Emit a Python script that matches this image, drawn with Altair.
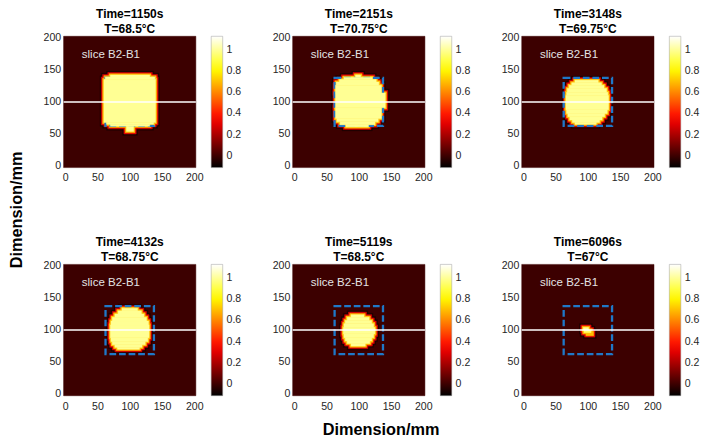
import altair as alt
import pandas as pd

FONT = "Liberation Sans"

TIMES = [1150, 2151, 3148, 4132, 5119, 6096]
TEMPS = ["68.5", "70.75", "69.75", "68.75", "68.5", "67"]

# blob rows (mm): row y-range, row x-range, value
BLOB_1150 = {"y_lo": [54, 62, 65, 68, 135, 139],
             "y_hi": [62, 65, 68, 135, 139, 142],
             "x_lo": [95, 70, 64, 60, 62, 70],
             "x_hi": [106, 131, 137, 140, 139, 131],
             "v": [1, 1, 1, 1, 1, 1]}
BLOB_2151 = {"y_lo": [61, 64.5, 69, 74, 91, 114, 126, 131, 135, 138.5],
             "y_hi": [64.5, 69, 74, 91, 114, 126, 131, 135, 138.5, 142],
             "x_lo": [80, 71, 66, 64, 64, 64, 65, 70, 77, 95],
             "x_hi": [115, 125, 130, 135, 141, 135, 131, 127, 121, 103],
             "v": [1, 1, 1, 1, 1, 1, 1, 1, 1, 1]}
BLOB_3148 = {"y_lo": [65, 68, 72, 77, 82, 88, 110, 115, 121, 126, 130],
             "y_hi": [68, 72, 77, 82, 88, 110, 115, 121, 126, 130, 134],
             "x_lo": [80, 76, 72, 69, 67, 66, 67, 68, 71, 75, 80],
             "x_hi": [113, 118, 122, 126, 130, 132, 131, 129, 125, 121, 116],
             "v": [1, 1, 1, 1, 1, 1, 1, 1, 1, 1, 1]}
BLOB_4132 = {"y_lo": [70, 73, 77, 82, 88, 108, 114, 120, 125, 130],
             "y_hi": [73, 77, 82, 88, 108, 114, 120, 125, 130, 134],
             "x_lo": [81, 77, 73, 71, 70, 71, 73, 77, 82, 88],
             "x_hi": [115, 119, 124, 128, 130, 129, 126, 122, 118, 112],
             "v": [1, 1, 1, 1, 1, 1, 1, 1, 1, 1]}
BLOB_5119 = {"y_lo": [75, 79, 83, 88, 94, 104, 110, 115, 120],
             "y_hi": [79, 83, 88, 94, 104, 110, 115, 120, 124],
             "x_lo": [88, 82, 79, 77, 76, 77, 79, 82, 88],
             "x_hi": [110, 117, 120, 123, 125, 123, 120, 116, 108],
             "v": [1, 1, 1, 1, 1, 1, 1, 1, 1]}
BLOB_6096 = {"y_lo": [93, 96, 100],
             "y_hi": [96, 100, 104],
             "x_lo": [99, 94, 93],
             "x_hi": [107, 105, 101],
             "v": [0.7, 0.95, 1]}
BLOBS = [BLOB_1150, BLOB_2151, BLOB_3148, BLOB_4132, BLOB_5119, BLOB_6096]

IMAGE_EXTENT = [-2.5, 202.5]
BACKGROUND_VALUE = 0
SQUARE = [62.5, 137.5]
LINE_Y = 100
CB_DOMAIN = [-0.11, 1.13]
CB_TICKS = [0, 0.2, 0.4, 0.6, 0.8, 1]
AXIS_TICKS = [0, 50, 100, 150, 200]
SLICE_LABEL = "slice B2-B1"

# smoothed edge of the blobs (offset in mm, value)
RIM_OFFSETS = [6.0, 4.0, 2.0]
RIM_VALUES = [-0.06, 0.3, 0.7]

W, H = 138, 137
BLUE = "#1f78c8"

lo, hi = CB_DOMAIN
span = hi - lo
COLOR_SCALE = alt.Scale(domain=[lo, lo + 0.375 * span, lo + 0.75 * span, hi],
                        range=["#000000", "#ff0000", "#ffff00", "#ffffff"],
                        interpolate="rgb", clamp=True)

XS = alt.Scale(domain=IMAGE_EXTENT, nice=False, zero=False)
YS = alt.Scale(domain=IMAGE_EXTENT, nice=False, zero=False)
XAX = alt.Axis(values=AXIS_TICKS, ticks=False, domain=False, grid=False, title=None,
               labelPadding=5, labelFontSize=11, labelColor="#262626", labelFont=FONT)
YAX = alt.Axis(values=AXIS_TICKS, ticks=False, domain=False, grid=False, title=None,
               labelPadding=3, labelFontSize=11, labelColor="#262626", labelFont=FONT)
LEGEND = alt.Legend(title=None, orient="right", offset=16, direction="vertical",
                    gradientLength=H, gradientThickness=12, values=CB_TICKS,
                    labelExpr="format(datum.value, '~g')", labelFontSize=11,
                    labelColor="#262626", labelFont=FONT, labelOffset=4,
                    gradientStrokeColor="#999999", gradientStrokeWidth=0.5)


def rect_enc():
    return dict(
        x=alt.X("x:Q", scale=XS, axis=XAX), x2="x2:Q",
        y=alt.Y("y:Q", scale=YS, axis=YAX), y2="y2:Q",
        color=alt.Color("v:Q", scale=COLOR_SCALE, legend=LEGEND),
        stroke=alt.Stroke("v:Q", scale=COLOR_SCALE, legend=None),
    )


def panel(i):
    b = BLOBS[i]
    bg_df = pd.DataFrame({"x": [IMAGE_EXTENT[0]], "x2": [IMAGE_EXTENT[1]],
                          "y": [IMAGE_EXTENT[0]], "y2": [IMAGE_EXTENT[1]],
                          "v": [BACKGROUND_VALUE]})
    core_df = pd.DataFrame({"x": b["x_lo"], "x2": b["x_hi"],
                            "y": b["y_lo"], "y2": b["y_hi"], "v": b["v"]})
    rims = []
    for off, val in zip(RIM_OFFSETS, RIM_VALUES):
        rims.append(pd.DataFrame({"x": [a - off for a in b["x_lo"]],
                                  "x2": [a + off for a in b["x_hi"]],
                                  "y": [a - off for a in b["y_lo"]],
                                  "y2": [a + off for a in b["y_hi"]],
                                  "v": [val] * len(b["v"])}))
    rim_df = pd.concat(rims, ignore_index=True)
    sq_df = pd.DataFrame({"x": [SQUARE[0]], "x2": [SQUARE[1]],
                          "y": [SQUARE[0]], "y2": [SQUARE[1]]})
    line_df = pd.DataFrame({"y": [LINE_Y]})
    txt_df = pd.DataFrame({"t": [SLICE_LABEL]})

    bg = alt.Chart(bg_df).mark_rect(strokeWidth=0.5).encode(**rect_enc())
    rim = alt.Chart(rim_df).mark_rect(strokeWidth=0.5).encode(**rect_enc())
    core = alt.Chart(core_df).mark_rect(strokeWidth=0.5).encode(**rect_enc())
    sq = alt.Chart(sq_df).mark_rect(fill="transparent", stroke=BLUE, strokeWidth=2.4,
                                    strokeDash=[7, 3]).encode(
        x=alt.X("x:Q", scale=XS, axis=XAX), x2="x2:Q",
        y=alt.Y("y:Q", scale=YS, axis=YAX), y2="y2:Q")
    line = alt.Chart(line_df).mark_rule(color="white", strokeWidth=1.5).encode(
        y=alt.Y("y:Q", scale=YS, axis=YAX))
    txt = alt.Chart(txt_df).mark_text(align="left", baseline="middle", fontSize=12,
                                      color="#e4e4e4", font=FONT).encode(
        x=alt.value(19), y=alt.value(19), text="t:N")

    title = alt.TitleParams([f"Time={TIMES[i]}s", f"T={TEMPS[i]}°C"], fontSize=12.5,
                            fontWeight="bold", font=FONT, color="black", lineHeight=15,
                            anchor="middle", frame="group", offset=-3)
    return alt.layer(bg, rim, sq, core, line, txt).properties(width=W, height=H, title=title)


row1 = alt.hconcat(panel(0), panel(1), panel(2), spacing=31).resolve_scale(color="independent")
row2 = alt.hconcat(panel(3), panel(4), panel(5), spacing=31).resolve_scale(color="independent")

grid = alt.vconcat(row1, row2, spacing=56,
                   title=alt.TitleParams("Dimension/mm", orient="left", anchor="middle",
                                         fontSize=17, fontWeight="bold", font=FONT,
                                         color="black", offset=18)
                   ).resolve_scale(color="independent")

chart = alt.vconcat(grid, title=alt.TitleParams("Dimension/mm", orient="bottom",
                                                anchor="middle", fontSize=17,
                                                fontWeight="bold", font=FONT,
                                                color="black", offset=12, dx=28)
                    ).resolve_scale(color="independent").properties(
    padding={"left": 0, "top": -9, "right": 0, "bottom": 0}).configure_view(stroke=None)

chart.save("out.html", embed_options={"renderer": "svg", "actions": False})
